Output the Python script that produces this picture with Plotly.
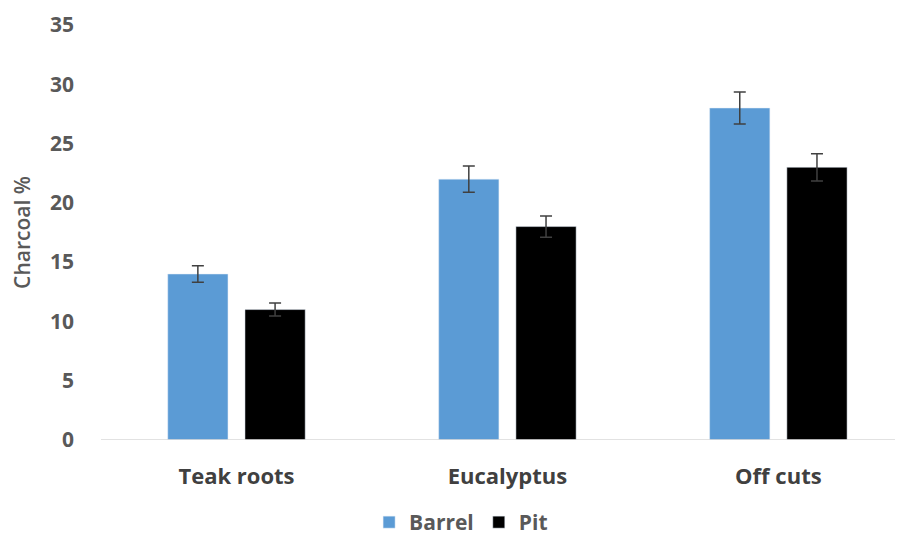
import plotly.graph_objects as go

categories = ["Teak roots", "Eucalyptus", "Off cuts"]
barrel = [14, 22, 28]
barrel_err = [0.7, 1.1, 1.35]
pit = [11, 18, 23]
pit_err = [0.55, 0.9, 1.15]
y_ticks = [0, 5, 10, 15, 20, 25, 30, 35]

fig = go.Figure()
fig.add_trace(go.Bar(
    name="Barrel", x=categories, y=barrel, marker_color="#5B9BD5",
    error_y=dict(type="data", array=barrel_err, color="#404040", thickness=1.5, width=6),
))
fig.add_trace(go.Bar(
    name="Pit", x=categories, y=pit, marker_color="#000000",
    error_y=dict(type="data", array=pit_err, color="#404040", thickness=1.5, width=6),
))

font_fam = "'Open Sans', sans-serif"
fig.update_layout(
    width=895, height=535,
    barmode="group", bargap=0.43, bargroupgap=0.22,
    plot_bgcolor="white", paper_bgcolor="white",
    margin=dict(l=93, r=0, t=17, b=103, autoexpand=False),
    font=dict(family=font_fam, color="#595959"),
    xaxis=dict(
        range=[-0.5, 2.46], showgrid=False, showline=False, zeroline=False,
        automargin=False,
        tickfont=dict(size=22, family=font_fam, weight="bold", color="#404040"),
        ticks="", ticklabelstandoff=21,
    ),
    yaxis=dict(
        range=[0, 35], tickvals=y_ticks, showgrid=False, zeroline=False,
        showline=False, ticks="", automargin=False,
        tickfont=dict(size=21, family=font_fam, weight="bold", color="#595959"),
        ticklabelstandoff=26,
        title=dict(text="Charcoal %", font=dict(size=21, family=font_fam, weight=600, color="#595959")),
    ),
    legend=dict(
        orientation="h", x=0.449, xanchor="center", yref="container", y=0.0, yanchor="bottom",
        font=dict(size=21, family=font_fam, weight="bold", color="#595959"),
        itemwidth=30,
    ),
    shapes=[dict(type="line", xref="paper", yref="y", x0=0, x1=1, y0=0, y1=0,
                 line=dict(color="#D9D9D9", width=1.3))],
)

fig.write_html("out.html")
